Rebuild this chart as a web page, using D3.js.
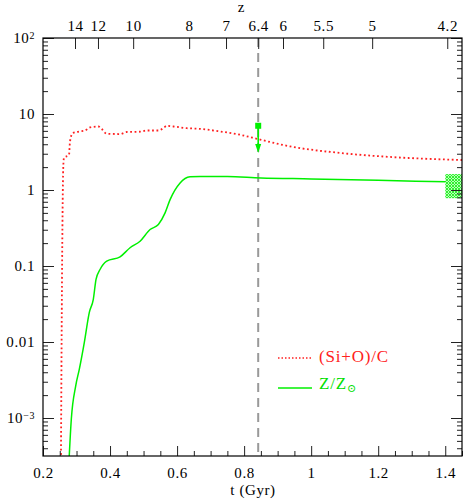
<!DOCTYPE html>
<html>
<head>
<meta charset="utf-8">
<script src="https://cdn.jsdelivr.net/npm/d3@7"></script>
<style>
body{margin:0;background:#fff}
text{font-family:"Liberation Serif","DejaVu Serif","Times New Roman",serif}
</style>
</head>
<body>
<script>
// (Si+O)/C ratio vs time
var tRatio = [0.2535,0.2576,0.2606,0.2627,0.2776,0.2806,0.2887,0.3104,0.3254,0.3403,0.3651,0.3752,0.3901,0.4299,0.4499,0.4896,0.5096,0.5442,0.5591,0.5693,0.5890,0.6290,0.6636,0.728,0.788,0.848,0.937,1.087,1.236,1.45];
var ratioSiOC = [2.5e-4,0.22,2.1,2.66,2.9,4.36,5.6,5.9,6.07,6.65,6.85,6.34,5.5,5.45,5.8,5.85,6.07,6.07,6.5,7.0,6.85,6.5,6.4,5.9,5.33,4.6,3.75,3.07,2.72,2.48];
// Z/Zsun vs time
var tMetal = [0.2780,0.2845,0.2976,0.3084,0.3233,0.3382,0.3501,0.3582,0.3701,0.3901,0.4299,0.4597,0.4896,0.5194,0.5442,0.5642,0.5791,0.609,0.6388,0.6687,0.75,0.85,1.0,1.2,1.45];
var metalZ = [3.0e-4,9.7e-4,2.65e-3,4.4e-3,9.9e-3,0.0246,0.0365,0.0667,0.090,0.116,0.132,0.174,0.212,0.302,0.352,0.50,0.748,1.24,1.49,1.51,1.5,1.44,1.4,1.34,1.27];

var tTicks = [0.2,0.4,0.6,0.8,1,1.2,1.4];
var tLabels = ["0.2","0.4","0.6","0.8","1","1.2","1.4"];
var yTicks = [100,10,1,0.1,0.01,0.001];
var zLabels = ["14","12","10","8","7","6.4","6","5.5","5","4.2"];
var zTimes = [0.2955,0.364,0.469,0.636,0.746,0.842,0.916,1.036,1.182,1.406];

var tObs = 0.842;
var limitT = [0.842], limitFrom = [7.0], limitTo = [3.07];
var bandT = [1.40,1.46], bandZ = [0.78,1.62];

var width = 463, height = 503;
var x = d3.scaleLinear().domain([0.2,1.45]).range([43,462]);
var y = d3.scaleLog().domain([Math.pow(10,-3.5),100]).range([456,38]);

var svg = d3.select("body").append("svg")
    .attr("width",width)
    .attr("height",height);

var defs = svg.append("defs");
defs.append("clipPath").attr("id","clip")
    .append("rect").attr("x",43).attr("y",38).attr("width",419).attr("height",418);
var pat = defs.append("pattern").attr("id","hatch")
    .attr("patternUnits","userSpaceOnUse").attr("width",3).attr("height",3);
pat.append("rect").attr("width",3).attr("height",3).attr("fill","#b8ffb8");
pat.append("path").attr("d","M0,0L3,3M3,0L0,3").attr("stroke","#22ee22").attr("stroke-width",0.9);

var plot = svg.append("g").attr("clip-path","url(#clip)");

// dashed line at the observed redshift
plot.append("line")
    .attr("x1",x(tObs)).attr("x2",x(tObs))
    .attr("y1",38).attr("y2",456)
    .attr("stroke","#999").attr("stroke-width",2)
    .attr("stroke-dasharray","9,6");

var line = d3.line()
    .x(function(d){ return x(d[0]); })
    .y(function(d){ return y(d[1]); })
    .curve(d3.curveMonotoneX);

plot.append("path")
    .attr("d",line(d3.zip(tRatio,ratioSiOC)))
    .attr("fill","none").attr("stroke","#ff2020")
    .attr("stroke-width",1.8).attr("stroke-dasharray","1.8,2.6");

plot.append("path")
    .attr("d",line(d3.zip(tMetal,metalZ)))
    .attr("fill","none").attr("stroke","#00f000")
    .attr("stroke-width",1.5);

plot.append("rect")
    .attr("x",x(bandT[0])).attr("y",y(bandZ[1]))
    .attr("width",x(bandT[1])-x(bandT[0]))
    .attr("height",y(bandZ[0])-y(bandZ[1]))
    .attr("fill","url(#hatch)");

// upper limit arrow
limitT.forEach(function(t,i){
    var cx = x(t), y0 = y(limitFrom[i]), y1 = y(limitTo[i]);
    plot.append("line").attr("x1",cx).attr("x2",cx).attr("y1",y0).attr("y2",y1-8)
        .attr("stroke","#00f000").attr("stroke-width",1.6);
    plot.append("path").attr("d","M"+(cx-3)+","+(y1-9)+"L"+(cx+3)+","+(y1-9)+"L"+cx+","+y1+"Z")
        .attr("fill","#00f000");
    plot.append("rect").attr("x",cx-3).attr("y",y0-3).attr("width",6).attr("height",6)
        .attr("fill","#00f000");
});

// axes
var minorT = d3.range(0.2,1.451,0.05).filter(function(v){ return Math.abs(v/0.2-Math.round(v/0.2))>1e-6; });
var minorY = [];
for (var k=-4;k<2;k++){
    for (var m=2;m<10;m++){
        var v = m*Math.pow(10,k);
        if (v>=y.domain()[0] && v<=100) minorY.push(v);
    }
}

function styleAxis(g){
    g.attr("font-family",null);
    g.select(".domain").remove();
    g.selectAll("line").attr("stroke","#222").attr("stroke-width",1);
    g.selectAll("text").attr("font-size",15).attr("letter-spacing","0.6px").attr("fill","#000");
}

svg.append("g").attr("transform","translate(0,456)")
    .call(d3.axisBottom(x).tickValues(tTicks).tickSize(-10).tickSizeOuter(0).tickPadding(11)
        .tickFormat(function(d,i){ return tLabels[i]; }))
    .call(styleAxis);
svg.append("g").attr("transform","translate(0,456)")
    .call(d3.axisBottom(x).tickValues(minorT).tickSize(-5).tickSizeOuter(0).tickFormat(""))
    .call(styleAxis);

svg.append("g").attr("transform","translate(0,38)")
    .call(d3.axisTop(x).tickValues(zTimes).tickSize(-11).tickSizeOuter(0).tickPadding(7)
        .tickFormat(function(d,i){ return zLabels[i]; }))
    .call(styleAxis);

var yl = svg.append("g").attr("transform","translate(43,0)")
    .call(d3.axisLeft(y).tickValues(yTicks).tickSize(-11).tickSizeOuter(0).tickPadding(8))
    .call(styleAxis);
yl.selectAll(".tick text").each(function(d){
    var t = d3.select(this).text("");
    var e = Math.round(Math.log10(d));
    if (e>=2 || e<=-3){
        t.append("tspan").text("10");
        t.append("tspan").attr("dy","-0.45em").attr("font-size",10).text(e>0 ? String(e) : "\u2212"+(-e));
        t.append("tspan").attr("font-size",1).attr("dy","0.45em").text(" ");
    } else {
        t.text(String(d));
    }
});
svg.append("g").attr("transform","translate(43,0)")
    .call(d3.axisLeft(y).tickValues(minorY).tickSize(-5).tickSizeOuter(0).tickFormat(""))
    .call(styleAxis);

svg.append("g").attr("transform","translate(462,0)")
    .call(d3.axisRight(y).tickValues(yTicks).tickSize(-11).tickSizeOuter(0).tickFormat(""))
    .call(styleAxis);
svg.append("g").attr("transform","translate(462,0)")
    .call(d3.axisRight(y).tickValues(minorY).tickSize(-5).tickSizeOuter(0).tickFormat(""))
    .call(styleAxis);

svg.append("rect").attr("x",43).attr("y",38).attr("width",419).attr("height",418)
    .attr("fill","none").attr("stroke","#000").attr("stroke-width",1.2);

svg.append("text").attr("x",253).attr("y",495).attr("text-anchor","middle")
    .attr("font-size",15).attr("letter-spacing","0.6px").text("t (Gyr)");
svg.append("text").attr("x",241).attr("y",12).attr("text-anchor","middle")
    .attr("font-size",15).text("z");

// legend
svg.append("line").attr("x1",278).attr("x2",312).attr("y1",358).attr("y2",358)
    .attr("stroke","#ff2020").attr("stroke-width",1.4).attr("stroke-dasharray","1.5,2");
svg.append("text").attr("x",319).attr("y",362).attr("font-size",17).attr("letter-spacing","0.8px")
    .attr("fill","#ff2020").text("(Si+O)/C");
svg.append("line").attr("x1",278).attr("x2",312).attr("y1",388).attr("y2",388)
    .attr("stroke","#00f000").attr("stroke-width",1.5);
var zt = svg.append("text").attr("x",319).attr("y",389).attr("font-size",17)
    .attr("letter-spacing","0.8px").attr("fill","#00e000");
zt.append("tspan").text("Z/Z");
zt.append("tspan").attr("dy","0.3em").attr("font-size",11).text("\u2299");
</script>
</body>
</html>
